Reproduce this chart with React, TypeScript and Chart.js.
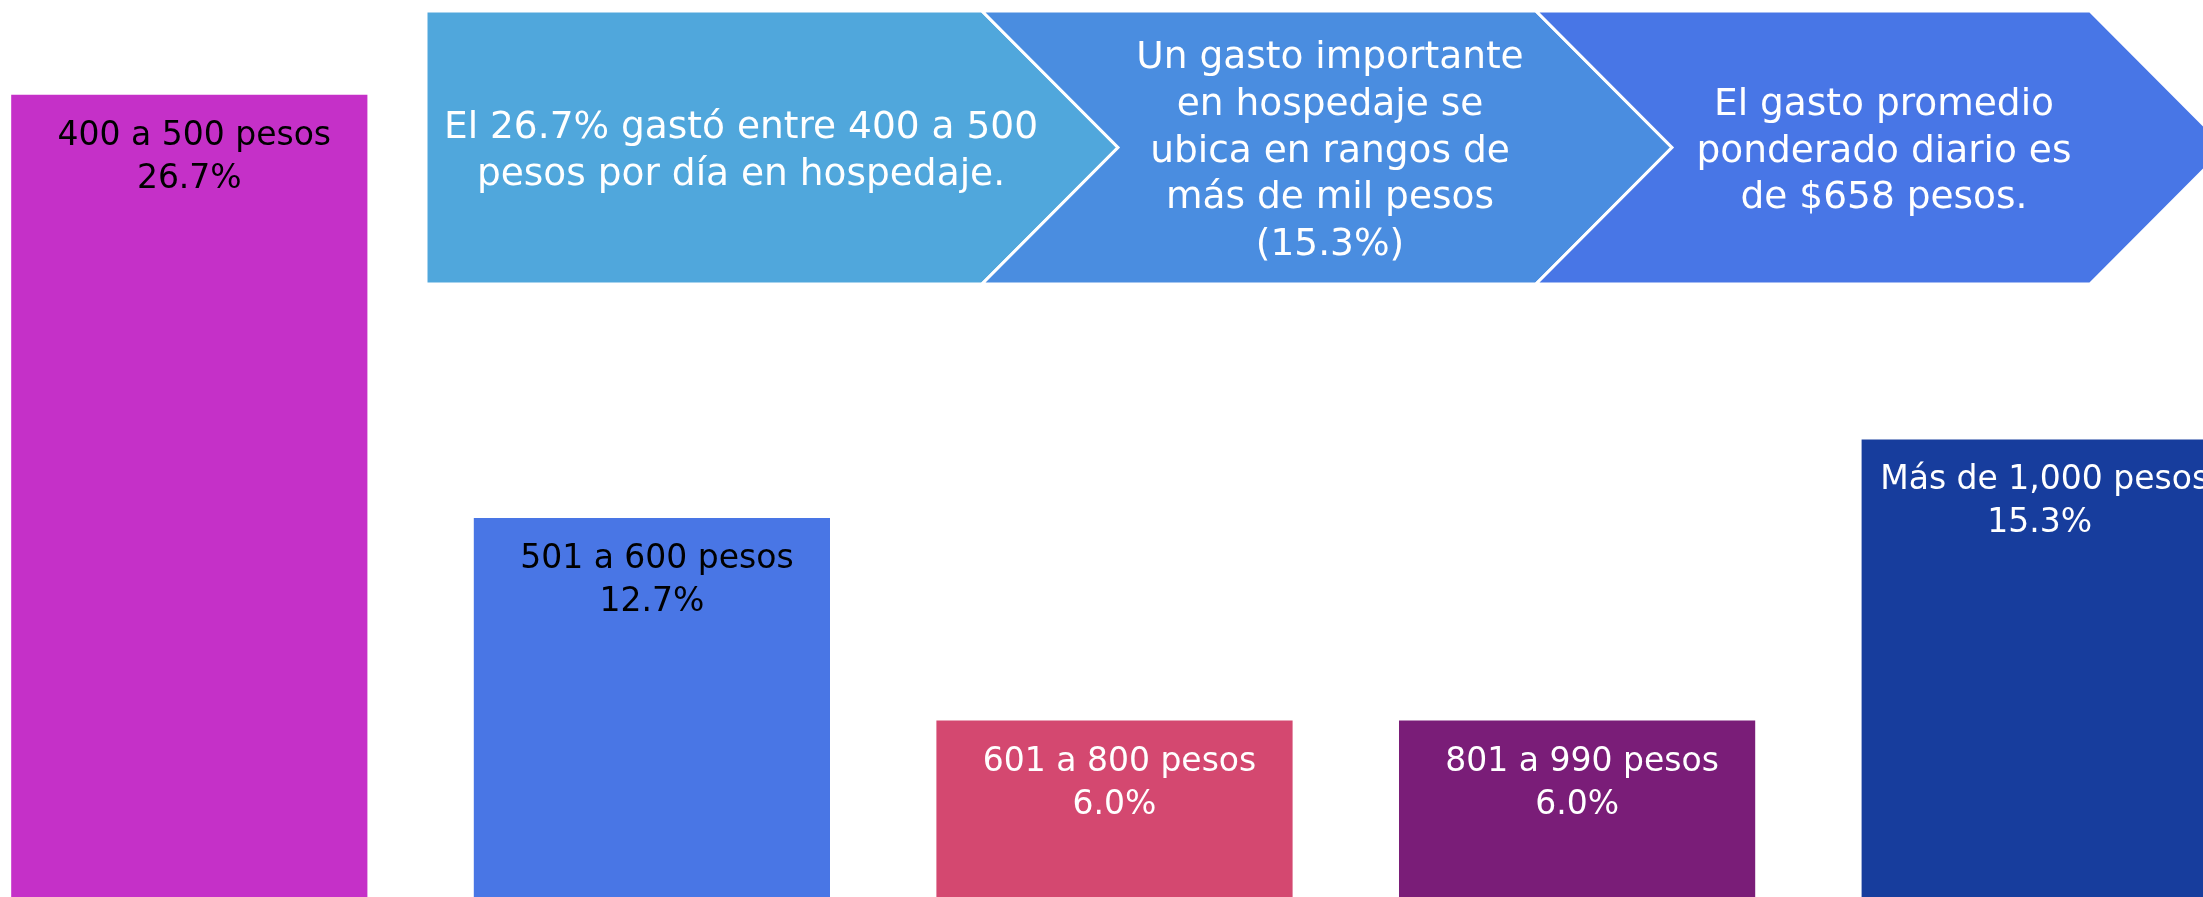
import React, { useEffect, useRef } from "react";
import { Chart, registerables } from "chart.js";

Chart.register(...registerables);

// ---- data ----
const categories = [
  "400 a 500 pesos",
  "501 a 600 pesos",
  "601 a 800 pesos",
  "801 a 990 pesos",
  "Más de 1,000 pesos",
];
const shares = [26.7, 12.7, 6.0, 6.0, 15.3];
const barColors = ["#C530C8", "#4976E5", "#D44870", "#7A1D78", "#173D9D"];
const labelColors = ["#000000", "#000000", "#FFFFFF", "#FFFFFF", "#FFFFFF"];

const chevronTexts = [
  ["El 26.7% gastó entre 400 a 500", "pesos por día en hospedaje."],
  ["Un gasto importante", "en hospedaje se", "ubica en rangos de", "más de mil pesos", "(15.3%)"],
  ["El gasto promedio", "ponderado diario es", "de $658 pesos."],
];
const chevronColors = ["#50A7DC", "#4A8DE0", "#4876E6"];

// ---- layout (style) ----
const CANVAS_LEFT = -42;
const CANVAS_TOP = -5;
const CANVAS_W = 2313;
const CANVAS_H = 907;

const CH_TOP = 11;
const CH_BOTTOM = 284;
const CH_DEPTH = 136;
const CH_STARTS = [426, 982, 1536];
const CH_BODY_W = [556, 554, 554];
const CH_TEXT_CX = [741, 1330, 1884];

const overlayPlugin = {
  id: "overlay",
  afterDatasetsDraw(chart: any) {
    const ctx: CanvasRenderingContext2D = chart.ctx;
    const meta = chart.getDatasetMeta(0);
    ctx.save();
    ctx.font = '33px "DejaVu Sans"';
    ctx.textAlign = "center";
    ctx.textBaseline = "alphabetic";
    meta.data.forEach((el: any, i: number) => {
      ctx.fillStyle = labelColors[i];
      ctx.fillText(categories[i], el.x + 5, el.y + 50);
      ctx.fillText(shares[i].toFixed(1) + "%", el.x, el.y + 93);
    });
    ctx.restore();

    // chevron process shapes, drawn in window coordinates
    ctx.save();
    ctx.translate(-CANVAS_LEFT, -CANVAS_TOP);
    const midY = (CH_TOP + CH_BOTTOM) / 2;
    for (let i = 0; i < chevronTexts.length; i++) {
      const x0 = CH_STARTS[i];
      const x1 = x0 + CH_BODY_W[i];
      ctx.beginPath();
      ctx.moveTo(x0, CH_TOP);
      ctx.lineTo(x1, CH_TOP);
      ctx.lineTo(x1 + CH_DEPTH, midY);
      ctx.lineTo(x1, CH_BOTTOM);
      ctx.lineTo(x0, CH_BOTTOM);
      if (i > 0) ctx.lineTo(x0 + CH_DEPTH, midY);
      ctx.closePath();
      ctx.fillStyle = chevronColors[i];
      ctx.fill();
      ctx.strokeStyle = "#FFFFFF";
      ctx.lineWidth = 3;
      ctx.stroke();
    }
    ctx.font = '37.5px "DejaVu Sans"';
    ctx.fillStyle = "#FFFFFF";
    ctx.textAlign = "center";
    ctx.textBaseline = "alphabetic";
    const lh = 46.7;
    chevronTexts.forEach((lines, i) => {
      const first = midY - ((lines.length - 1) / 2) * lh + 14;
      lines.forEach((t, j) => {
        ctx.fillText(t, CH_TEXT_CX[i], first + j * lh);
      });
    });
    ctx.restore();
  },
};

export default function App() {
  const ref = useRef<HTMLCanvasElement | null>(null);

  useEffect(() => {
    if (!ref.current) return;
    const chart = new Chart(ref.current, {
      type: "bar",
      data: {
        labels: categories,
        datasets: [
          {
            data: shares,
            backgroundColor: barColors,
            borderWidth: 0,
            barPercentage: 0.77,
            categoryPercentage: 1.0,
          },
        ],
      },
      options: {
        responsive: false,
        animation: false,
        devicePixelRatio: 1,
        layout: { padding: 0 },
        plugins: {
          legend: { display: false },
          tooltip: { enabled: false },
        },
        scales: {
          x: { display: false, grid: { display: false } },
          y: { display: false, min: 0, max: 30, grid: { display: false } },
        },
      },
      plugins: [overlayPlugin],
    });
    return () => chart.destroy();
  }, []);

  return (
    <div
      style={{
        position: "fixed",
        left: 0,
        top: 0,
        width: 2203,
        height: 897,
        overflow: "hidden",
        background: "#FFFFFF",
      }}
    >
      <canvas
        ref={ref}
        width={CANVAS_W}
        height={CANVAS_H}
        style={{
          position: "absolute",
          left: CANVAS_LEFT,
          top: CANVAS_TOP,
          width: CANVAS_W,
          height: CANVAS_H,
        }}
      />
    </div>
  );
}
